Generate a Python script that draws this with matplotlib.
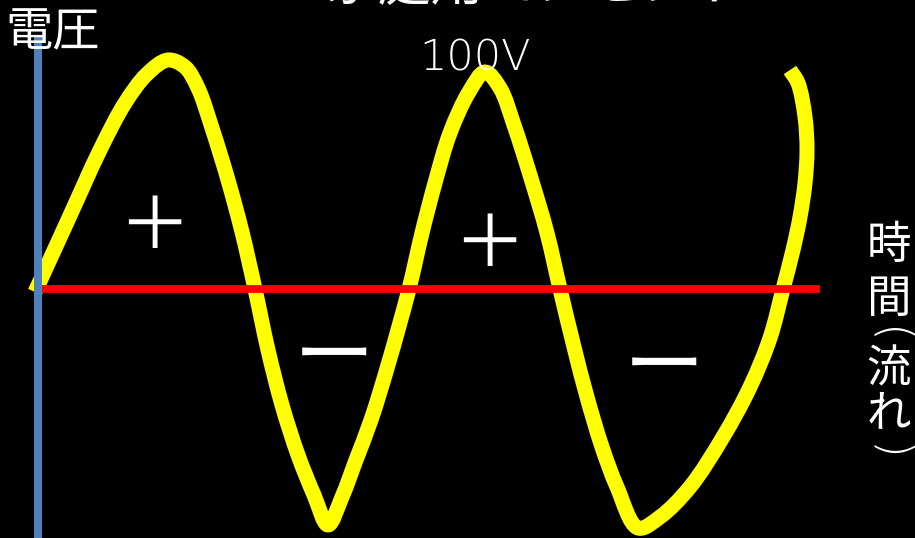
import numpy as np
import matplotlib.pyplot as plt
from matplotlib.path import Path
from matplotlib.patches import PathPatch

plt.rcParams['font.family'] = ['Noto Sans CJK JP', 'DejaVu Sans']

# 波形（画像上のピクセル座標で読み取り）
wave_x = [35, 68, 100, 125, 147, 168, 185, 198, 212, 228, 242, 255, 268, 282, 298,
          314, 328, 342, 356, 371, 388, 409, 422, 435, 450, 469, 485, 500, 514,
          530, 547, 560, 574, 587, 602, 617, 638, 660, 690, 723, 750, 770, 783,
          793, 800, 805, 807, 805, 798, 790]
wave_y = [292, 220, 150, 103, 74, 60, 67, 88, 128, 180, 232, 289, 350, 405, 455,
          495, 525, 497, 460, 420, 365, 289, 233, 183, 133, 92, 72, 88, 125,
          175, 233, 289, 347, 397, 447, 487, 528, 517, 487, 437, 387, 338, 289,
          250, 217, 183, 150, 117, 83, 70]

zero_y = 289          # 0V の位置
axis_x = 38           # 縦軸の位置
line_end = 820

signs = ['＋', 'ー', '＋', 'ー']
sign_x = [154, 334, 489, 664]
sign_y = [229, 358, 247, 368]

vtext = ['時', '間', '(', '流', 'れ', ')']
vtext_y = [245, 299, 336, 369, 413, 452]

fig = plt.figure(figsize=(9.15, 5.38), dpi=100, facecolor='black')
ax = fig.add_axes([0, 0, 1, 1])
ax.set_facecolor('black')
ax.set_xlim(0, 915)
ax.set_ylim(538, 0)
ax.axis('off')

# 読み取った点を滑らかにつなぐ（centripetal Catmull-Rom を3次ベジェで描く）
P = np.column_stack([wave_x, wave_y]).astype(float)
P = np.vstack([2 * P[0] - P[1], P, 2 * P[-1] - P[-2]])
verts = [tuple(P[1])]
codes = [Path.MOVETO]
for i in range(1, len(P) - 2):
    p0, p1, p2, p3 = P[i - 1], P[i], P[i + 1], P[i + 2]
    d01 = np.linalg.norm(p1 - p0) ** 0.5
    d12 = np.linalg.norm(p2 - p1) ** 0.5
    d23 = np.linalg.norm(p3 - p2) ** 0.5
    m1 = d12 * ((p1 - p0) / d01 - (p2 - p0) / (d01 + d12) + (p2 - p1) / d12)
    m2 = d12 * ((p2 - p1) / d12 - (p3 - p1) / (d12 + d23) + (p3 - p2) / d23)
    verts += [tuple(p1 + m1 / 3), tuple(p2 - m2 / 3), tuple(p2)]
    codes += [Path.CURVE4] * 3
ax.add_patch(PathPatch(Path(verts, codes), facecolor='none', edgecolor='#FFFF00',
                       lw=10.8, capstyle='butt', joinstyle='round', zorder=2))

ax.plot([axis_x + 3, line_end], [zero_y, zero_y], color='#FF0000', lw=5.6, zorder=3,
        solid_capstyle='butt')
ax.plot([axis_x, axis_x], [35, 538], color='#4F81BD', lw=5.8, zorder=4,
        solid_capstyle='butt')

ax.text(536, -15, '家庭用コンセント', color='white', fontsize=38, ha='center', va='center')
ax.text(475, 58, '100V', color='white', fontsize=31, ha='center', va='center',
        family='DejaVu Sans', fontweight='light')
ax.text(5, 33, '電圧', color='white', fontsize=34, ha='left', va='center', zorder=5)

for s, sx, sy in zip(signs, sign_x, sign_y):
    fs = 52 if s == '＋' else 58
    ax.text(sx, sy, s, color='white', fontsize=fs, ha='center', va='center')

for ch, cy in zip(vtext, vtext_y):
    if ch in '()':
        ax.text(889, cy, ch, color='white', fontsize=33, ha='center', va='center',
                rotation=-90, rotation_mode='anchor', family='DejaVu Sans',
                fontweight='light')
    else:
        ax.text(889, cy, ch, color='white', fontsize=32, ha='center', va='center')

fig.savefig('out.png', dpi=100, facecolor='black')
